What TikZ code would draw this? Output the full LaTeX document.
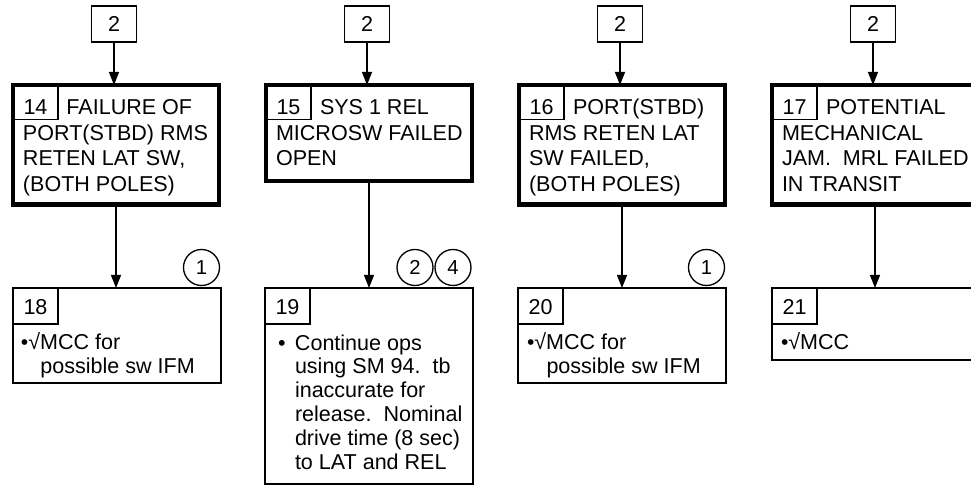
\documentclass[tikz,border=0pt]{standalone}
\usepackage{fontspec}
\setmainfont{Liberation Sans}
\usetikzlibrary{positioning, arrows.meta}
\newcommand{\firstline}{\rule{0pt}{3.6mm}}

\begin{document}
\begin{tikzpicture}[
            x=0.2mm, y=-0.2mm,
            every node/.style={outer sep=0pt, font=\fontsize{12.25}{14.5}\selectfont},
            refbox/.style={draw, line width=0.75pt, minimum width=9mm, minimum height=7.2mm, inner sep=0pt},
            failbox/.style={draw, line width=2.4pt, minimum width=41.2mm, anchor=north west, inner sep=0pt},
            actbox/.style={draw, line width=1.1pt, minimum width=41.6mm, anchor=north west, inner sep=0pt},
            failno/.style={draw, line width=0.85pt, minimum width=9mm, text height=6mm, text depth=0.9mm, inner sep=0pt, anchor=north west},
            actno/.style={failno, text height=5.4mm, text depth=1.8mm},
            title/.style={anchor=north west, inner sep=0pt, align=left},
            body/.style={anchor=north west, inner sep=0pt, align=left, font=\fontsize{12.25}{13.6}\selectfont},
            note/.style={draw, circle, line width=0.75pt, minimum size=7.2mm, inner sep=0pt, font=\fontsize{11.5}{13}\selectfont},
            arrow/.style={-{Triangle[length=2.6mm, width=2mm]}, line width=0.75pt}
        ]
            \useasboundingbox (0,0) rectangle (971,486);
            \clip (0,0) rectangle (971,486);

            \node[refbox] (r14) at (114,24) {2};
            \node[failbox, minimum height=23.9mm] (f14) at (13,85) {};
            \node[failno] (n14) at (f14.north west) {14};
            \node[title] (t14) at ([shift={(10,12)}]f14.north west) {\firstline\hspace*{8.7mm}FAILURE OF\\PORT(STBD) RMS\\RETEN LAT SW,\\(BOTH POLES)};
            \node[actbox, minimum height=19mm] (a18) at (13,288) {};
            \node[actno] (n18) at (a18.north west) {18};
            \node[body] (b18) at ([shift={(8,44)}]a18.north west) {\firstline{\large•}√MCC for\\\hspace*{3.9mm}possible sw IFM};
            \node[note] (c18) at ([shift={(-19.5,-20.5)}]a18.north east) {1};

            \node[refbox] (r15) at (367,24) {2};
            \node[failbox, minimum height=19.2mm] (f15) at (266,85) {};
            \node[failno] (n15) at (f15.north west) {15};
            \node[title] (t15) at ([shift={(10,12)}]f15.north west) {\firstline\hspace*{8.8mm}SYS 1 REL\\MICROSW FAILED\\OPEN};
            \node[actbox, minimum height=39.2mm] (a19) at (265,288) {};
            \node[actno] (n19) at (a19.north west) {19};
            \node[body] (b19) at ([shift={(13,44)}]a19.north west) {\firstline\makebox[3.4mm][l]{•}Continue ops\\\hspace*{3.4mm}using SM 94.\ \ tb\\\hspace*{3.4mm}inaccurate for\\\hspace*{3.4mm}release.\ \ Nominal\\\hspace*{3.4mm}drive time (8 sec)\\\hspace*{3.4mm}to LAT and REL};
            \node[note] (c19b) at ([shift={(-20,-20.5)}]a19.north east) {4};
            \node[note, left=0.4mm of c19b] (c19a) {2};

            \node[refbox] (r16) at (620,24) {2};
            \node[failbox, minimum height=23.9mm] (f16) at (519,85) {};
            \node[failno] (n16) at (f16.north west) {16};
            \node[title] (t16) at ([shift={(10,12)}]f16.north west) {\firstline\hspace*{8.8mm}PORT(STBD)\\RMS RETEN LAT\\SW FAILED,\\(BOTH POLES)};
            \node[actbox, minimum height=19mm] (a20) at (518,288) {};
            \node[actno] (n20) at (a20.north west) {20};
            \node[body] (b20) at ([shift={(9,44)}]a20.north west) {\firstline{\large•}√MCC for\\\hspace*{3.9mm}possible sw IFM};
            \node[note] (c20) at ([shift={(-19.5,-20.5)}]a20.north east) {1};

            \node[refbox] (r17) at (873,24) {2};
            \node[failbox, minimum height=23.9mm] (f17) at (772,85) {};
            \node[failno] (n17) at (f17.north west) {17};
            \node[title] (t17) at ([shift={(10,12)}]f17.north west) {\firstline\hspace*{8.8mm}POTENTIAL\\MECHANICAL\\JAM.\ \ MRL FAILED\\IN TRANSIT};
            \node[actbox, minimum height=14.4mm] (a21) at (772,288) {};
            \node[actno] (n21) at (a21.north west) {21};
            \node[body] (b21) at ([shift={(9,44)}]a21.north west) {\firstline{\large•}√MCC};

            \draw[arrow] (r14) -- (f14.north -| r14);
            \draw[arrow] (f14) -- (a18.north -| f14);
            \draw[arrow] (r15) -- (f15.north -| r15);
            \draw[arrow] (f15) -- (a19.north -| f15);
            \draw[arrow] (r16) -- (f16.north -| r16);
            \draw[arrow] (f16) -- (a20.north -| f16);
            \draw[arrow] (r17) -- (f17.north -| r17);
            \draw[arrow] (f17) -- (a21.north -| f17);
        \end{tikzpicture}
\end{document}
